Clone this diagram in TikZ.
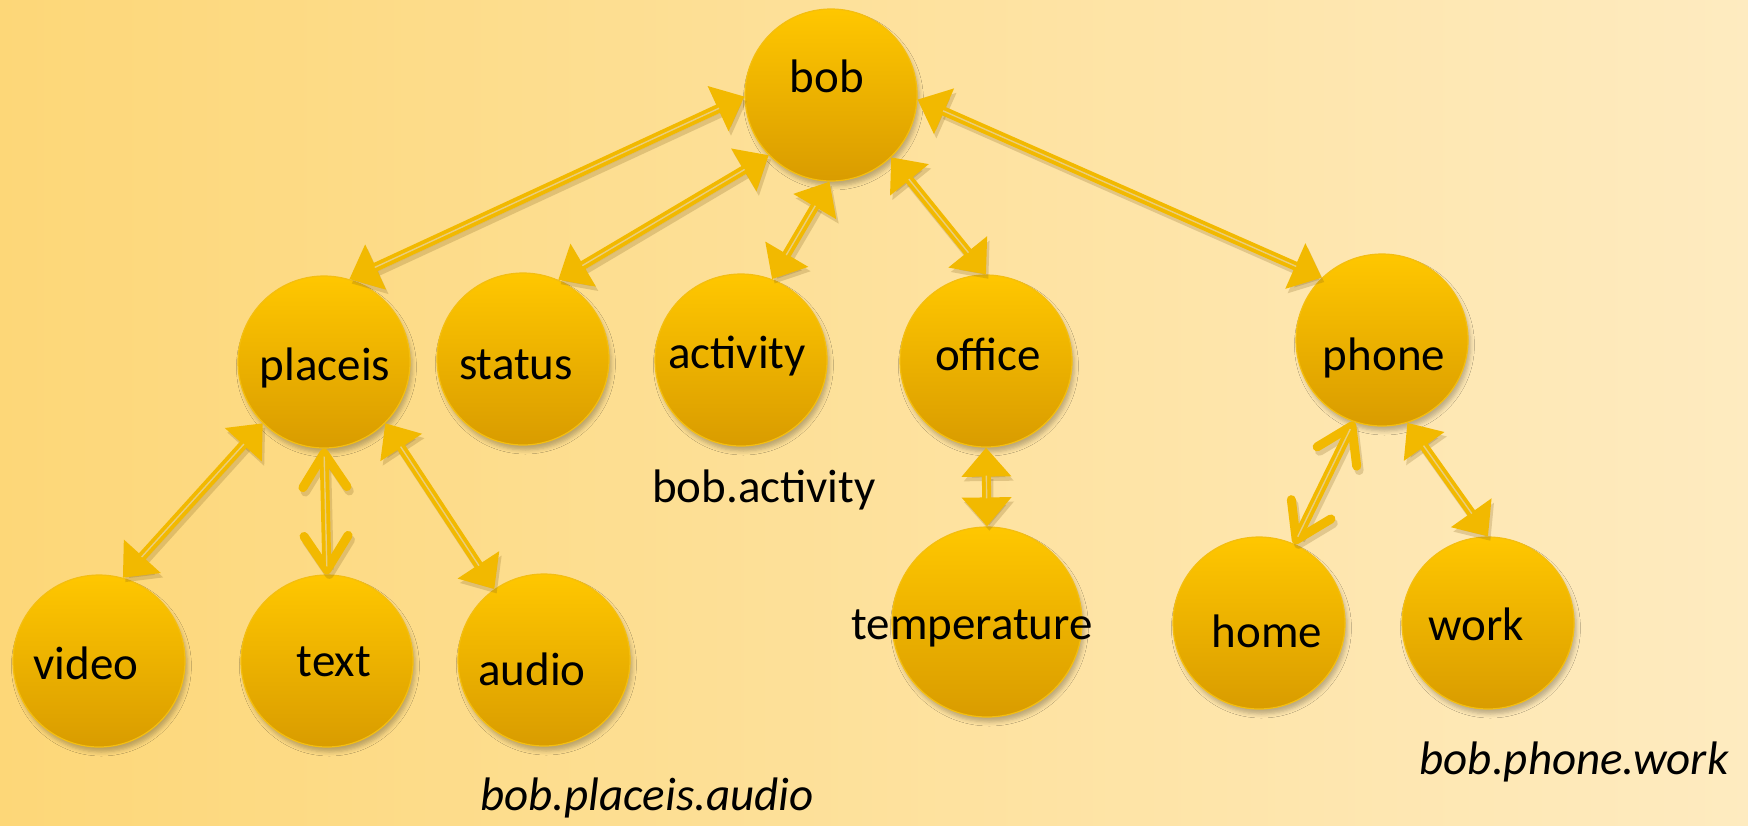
\documentclass[tikz,border=0pt]{standalone}
\usepackage{fontspec}
\setmainfont{Carlito}
\usetikzlibrary{arrows.meta,shadows.blur}

\definecolor{bgl}{HTML}{FDD778}
\definecolor{bgm}{HTML}{FEE194}
\definecolor{bgr}{HTML}{FEEBC0}
\definecolor{balltop}{HTML}{FFC700}
\definecolor{ballbot}{HTML}{D99C00}
\definecolor{ballrim}{HTML}{F4BE10}
\definecolor{arrowc}{HTML}{F2B900}
\definecolor{corec}{HTML}{EACD7C}
\definecolor{shadec}{HTML}{7A5A18}

\tikzset{
  ball/.style={circle, inner sep=0pt, minimum size=86pt, draw=ballrim,
    line width=0.6pt, top color=balltop, bottom color=ballbot,
    blur shadow={shadow xshift=1.2pt, shadow yshift=-2.5pt,
      shadow blur radius=2pt, shadow opacity=25}},
  word/.style={anchor=base, inner sep=0pt, font=\fontsize{23.5}{28}\selectfont},
  tri/.style={{Triangle[length=14.5pt,width=24pt]}-{Triangle[length=14.5pt,width=24pt]}},
  barb/.style={{Straight Barb[length=17pt,width=22pt,round]}-{Straight Barb[length=17pt,width=22pt,round]}},
  tricore/.style={shorten >=14pt, shorten <=14pt},
  barbcore/.style={shorten >=4pt, shorten <=4pt},
  shaft/.style={line width=4.5pt, draw=arrowc, fill=arrowc},
  shadowline/.style={line width=4.5pt, draw=shadec, fill=shadec, opacity=0.22},
  core/.style={line width=0.7pt, draw=corec},
}

% double-headed link: soft shadow, thick shaft with tips, light centre line
\newcommand\twoway[3][tri]{%
  \draw[#1, shadowline, transform canvas={shift={(1.2pt,-2.2pt)}}] (#2) -- (#3);
  \draw[#1, shaft] (#2) -- (#3);
  \draw[core, #1core] (#2) -- (#3);
}

\begin{document}
\begin{tikzpicture}[x=0.5pt, y=-0.5pt]
  \useasboundingbox (0,0) rectangle (1748,825);
  \shade[left color=bgl, middle color=bgm, right color=bgr] (0,0) rectangle (1748,825);

  % nodes of the tree
  \node[ball] (bob)      at (831,95)  {};
  \node[ball] (placeis)  at (324,362) {};
  \node[ball] (status)   at (523,359) {};
  \node[ball] (activity) at (741,360) {};
  \node[ball] (office)   at (986,361) {};
  \node[ball] (phone)    at (1382,340) {};
  \node[ball] (video)    at (99,661)  {};
  \node[ball] (text)     at (327,661) {};
  \node[ball] (audio)    at (544,660) {};
  \node[ball, minimum size=95pt] (temperature) at (987,622) {};
  \node[ball] (home)     at (1259,623) {};
  \node[ball] (work)     at (1488,623) {};

  % links
  \twoway{bob.181}{placeis.73}
  \twoway{bob.224}{status.66}
  \twoway{bob.269}{activity.69}
  \twoway{bob.314}{office.90}
  \twoway{bob.357}{phone.134}
  \twoway{placeis.225}{video.74}
  \twoway[barb]{placeis.270}{text.90}
  \twoway{placeis.315}{audio.125}
  \twoway{office.270}{temperature.90}
  \twoway[barb]{phone.251}{home.66}
  \twoway{phone.287}{work.90}

  % labels
  \node[word] (bob-t)      at (827,92)  {bob};
  \node[word] (placeis-t)  at (325,380) {placeis};
  \node[word] (status-t)   at (516,379) {status};
  \node[word] (activity-t) at (737,368) {activity};
  \node[word] (office-t)   at (988,370) {office};
  \node[word] (phone-t)    at (1384,370) {phone};
  \node[word] (video-t)    at (86,679)  {video};
  \node[word] (text-t)     at (334,676) {text};
  \node[word] (audio-t)    at (532,685) {audio};
  \node[word] (temperature-t) at (972,639) {temperature};
  \node[word] (home-t)     at (1267,647) {home};
  \node[word] (work-t)     at (1476,640) {work};

  \node[word] (path-activity) at (764,502) {bob.activity};
  \node[word, font=\fontsize{23.5}{28}\selectfont\itshape] (path-audio) at (647,810) {bob.placeis.audio};
  \node[word, font=\fontsize{23.5}{28}\selectfont\itshape] (path-work)  at (1574,774) {bob.phone.work};
\end{tikzpicture}
\end{document}
